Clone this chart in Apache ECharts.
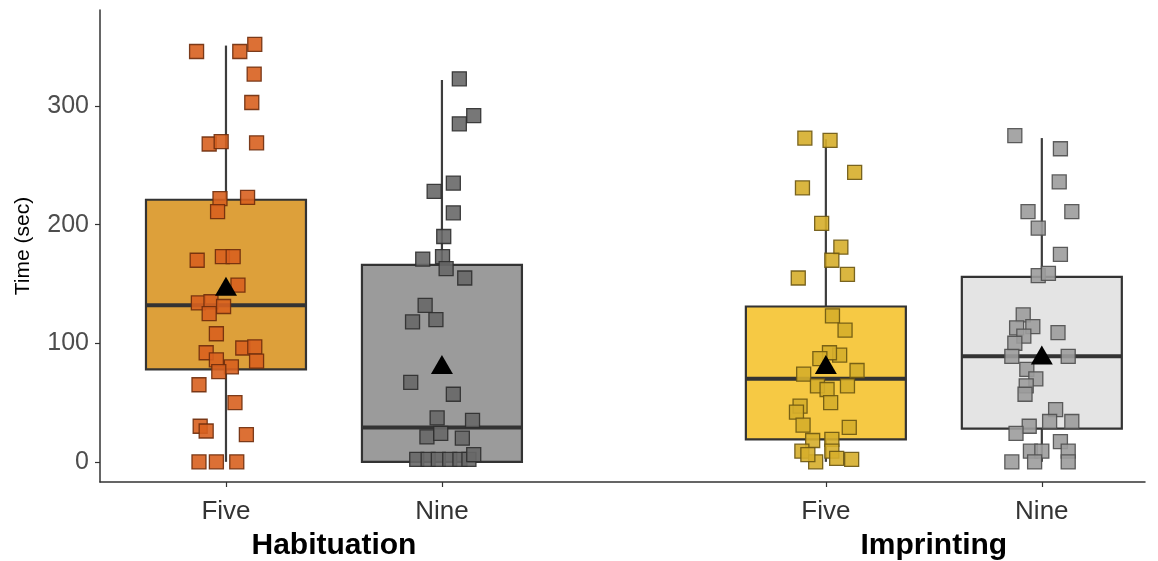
<!DOCTYPE html>
<html>
<head>
<meta charset="utf-8">
<script src="https://cdn.jsdelivr.net/npm/echarts@6/dist/echarts.min.js"></script>
<style>html,body{margin:0;padding:0;background:#fff}#c{width:1158px;height:561px}</style>
</head>
<body>
<div id="c"></div>
<script>
// ---- data ----
const groupNames = ['Habituation', 'Imprinting'];
const groupCenters = [1, 2];
const ageLabels = ['Five', 'Nine', 'Five', 'Nine'];
const boxPositions = [0.82, 1.18, 1.82, 2.18];
const yTicks = [0, 100, 200, 300];

// [whiskerLow, q1, median, q3, whiskerHigh]
const boxStats = [
  [0, 78, 132, 221, 351],
  [0, 0, 29, 166, 322],
  [0, 19, 70, 131, 272],
  [0, 28, 89, 156, 273]
];
const means = [148, 82, 82, 90];

const habFiveVals = [346,346,352,327,303,268,270,269,222,223,211,170,173,173,149,134,135,131,125,108,92,96,97,85,86,80,76,65,50,30,26,23,0,0,0];
const habFiveJit  = [-0.049,0.023,0.048,0.047,0.043,-0.028,-0.008,0.051,-0.010,0.036,-0.014,-0.048,-0.006,0.012,0.020,-0.046,-0.025,-0.004,-0.028,-0.016,-0.033,0.028,0.048,0.051,-0.016,0.009,-0.012,-0.045,0.015,-0.043,-0.033,0.034,-0.045,-0.016,0.018];

const habNineVals = [323,292,285,235,228,210,190,171,173,163,155,132,118,120,67,57,37,35,21,24,20,2,2,2,2,2,2,6];
const habNineJit  = [0.029,0.053,0.029,0.019,-0.013,0.019,0.003,-0.032,0.001,0.007,0.038,-0.028,-0.049,-0.010,-0.052,0.019,-0.008,0.051,-0.025,-0.002,0.034,-0.042,-0.023,-0.006,0.013,0.030,0.045,0.053];

const impFiveVals = [273,271,244,231,201,181,170,158,155,123,111,90,92,87,77,74,64,61,64,50,47,42,31,29,18,19,9,9,0,3,2,6];
const impFiveJit  = [-0.035,0.007,0.048,-0.039,-0.007,0.025,0.010,0.036,-0.046,0.011,0.032,0.023,0.006,-0.010,0.052,-0.037,-0.014,0.002,0.036,0.008,-0.043,-0.049,-0.038,0.039,-0.022,0.010,-0.040,0.010,-0.017,0.018,0.043,-0.030];

const impNineVals = [275,264,236,211,211,197,175,157,159,124,114,113,106,109,100,89,89,78,70,64,57,44,34,34,30,24,17,9,9,9,0,0,0];
const impNineJit  = [-0.045,0.031,0.029,-0.023,0.050,-0.006,0.031,-0.006,0.011,-0.031,-0.015,-0.042,-0.030,0.027,-0.045,-0.050,0.044,-0.025,-0.010,-0.026,-0.028,0.023,0.013,0.050,-0.021,-0.043,0.031,-0.019,0.000,0.044,-0.050,-0.012,0.044];

// ---- styling ----
const boxFills   = ['#DDA03A', '#9B9B9B', '#F6C944', '#E4E4E4'];
const pointFills = ['#D8601F', '#686868', '#D6AE2B', '#9C9C9C'];
const pointEdges = ['#6E2C0C', '#2E2E2E', '#6B5612', '#4E4E4E'];

const pointSets = [
  [habFiveVals, habFiveJit],
  [habNineVals, habNineJit],
  [impFiveVals, impFiveJit],
  [impNineVals, impNineJit]
];

const X_MIN = 0.61, X_MAX = 2.352;
const BOX_W = 0.2667;

const boxData = boxStats.map((s, i) => [boxPositions[i]].concat(s).concat([i]));

const series = [{
  type: 'custom',
  clip: false,
  z: 2,
  encode: { x: 0, y: [1, 2, 3, 4, 5] },
  data: boxData,
  renderItem: function (params, api) {
    const x = api.value(0);
    const lo = api.value(1), q1 = api.value(2), md = api.value(3), q3 = api.value(4), hi = api.value(5);
    const idx = api.value(6);
    const w = api.size([BOX_W, 0])[0];
    const pLo = api.coord([x, lo]), pQ1 = api.coord([x, q1]), pMd = api.coord([x, md]);
    const pQ3 = api.coord([x, q3]), pHi = api.coord([x, hi]);
    const cx = pLo[0];
    const lineStyle = { stroke: '#3d3d3d', lineWidth: 2.2 };
    return {
      type: 'group',
      children: [
        { type: 'line', shape: { x1: cx, y1: pHi[1], x2: cx, y2: pQ3[1] }, style: lineStyle },
        { type: 'line', shape: { x1: cx, y1: pQ1[1], x2: cx, y2: pLo[1] }, style: lineStyle },
        { type: 'rect', shape: { x: cx - w / 2, y: pQ3[1], width: w, height: pQ1[1] - pQ3[1] },
          style: { fill: boxFills[idx], stroke: '#333333', lineWidth: 2.2 } },
        { type: 'line', shape: { x1: cx - w / 2, y1: pMd[1], x2: cx + w / 2, y2: pMd[1] },
          style: { stroke: '#333333', lineWidth: 4 } }
      ]
    };
  }
}];

pointSets.forEach((ps, i) => {
  const vals = ps[0], jit = ps[1];
  series.push({
    type: 'scatter',
    z: 3,
    symbol: 'rect',
    symbolSize: 14,
    clip: false,
    itemStyle: { color: pointFills[i], borderColor: pointEdges[i], borderWidth: 1.3, opacity: 0.9 },
    data: vals.map((v, k) => [boxPositions[i] + jit[k], v])
  });
});

series.push({
  type: 'scatter',
  z: 5,
  symbol: 'triangle',
  symbolSize: [22, 19],
  itemStyle: { color: '#000000', opacity: 1 },
  data: means.map((m, i) => [boxPositions[i], m])
});

const option = {
  backgroundColor: '#ffffff',
  animation: false,
  textStyle: { fontFamily: 'Liberation Sans, Arial, sans-serif' },
  grid: { left: 100, right: 13, top: 10, bottom: 79 },
  xAxis: [{
    type: 'value',
    min: X_MIN, max: X_MAX,
    splitLine: { show: false },
    axisLine: { show: true, onZero: false, lineStyle: { color: '#333333', width: 1.5 } },
    axisTick: { show: true, length: 5, customValues: boxPositions, lineStyle: { color: '#333333', width: 1.2 } },
    axisLabel: {
      customValues: boxPositions,
      margin: 17,
      fontSize: 26,
      color: '#333333',
      formatter: function (v) {
        let best = 0, d = 1e9;
        boxPositions.forEach((p, i) => { if (Math.abs(p - v) < d) { d = Math.abs(p - v); best = i; } });
        return ageLabels[best];
      }
    }
  }, {
    type: 'value',
    min: X_MIN, max: X_MAX,
    position: 'bottom',
    splitLine: { show: false },
    axisLine: { show: false, onZero: false },
    axisTick: { show: false },
    axisLabel: {
      customValues: groupCenters,
      margin: 49,
      fontSize: 30,
      fontWeight: 'bold',
      color: '#000000',
      formatter: function (v) {
        return v < 1.5 ? groupNames[0] : groupNames[1];
      }
    }
  }],
  yAxis: {
    type: 'value',
    min: -17, max: 381,
    name: 'Time (sec)',
    nameLocation: 'middle',
    nameGap: 66,
    nameTextStyle: { fontSize: 21, color: '#000000' },
    splitLine: { show: false },
    axisLine: { show: true, onZero: false, lineStyle: { color: '#333333', width: 1.5 } },
    axisTick: { show: true, length: 5, customValues: yTicks, lineStyle: { color: '#333333', width: 1.2 } },
    axisLabel: { customValues: yTicks, fontSize: 25, color: '#4d4d4d', margin: 11 }
  },
  series: series
};

const chart = echarts.init(document.getElementById('c'), null, { renderer: 'canvas' });
chart.setOption(option);
</script>
</body>
</html>
